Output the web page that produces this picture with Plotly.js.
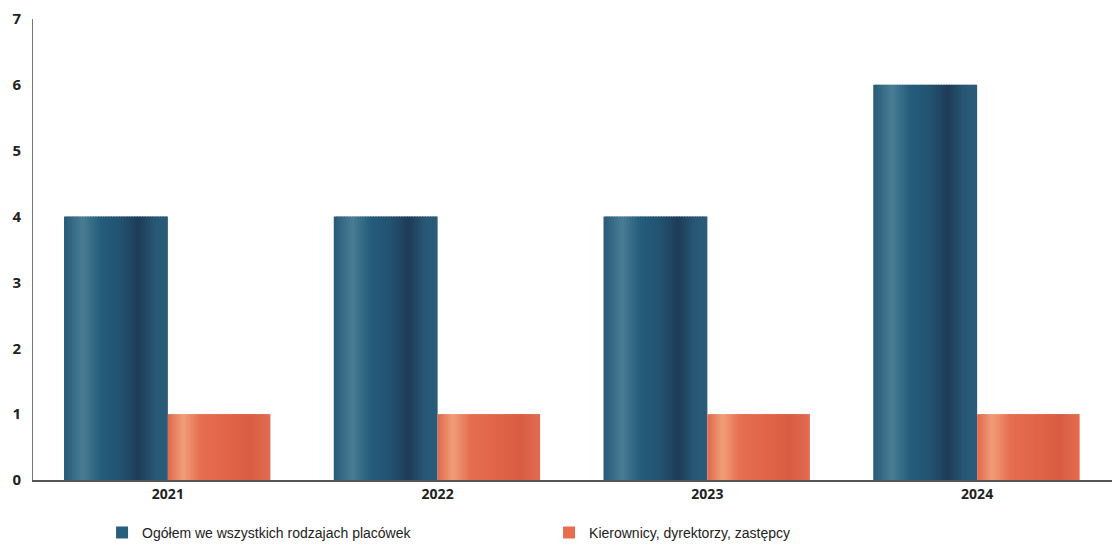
<!DOCTYPE html>
<html>
<head>
<meta charset="utf-8">
<script src="https://cdn.plot.ly/plotly-3.0.1.min.js"></script>
<style>html,body{margin:0;padding:0;background:#fff;}#chart{width:1112px;height:550px;}</style>
</head>
<body>
<div id="chart"></div>
<script>
// Data
const years = ['2021', '2022', '2023', '2024'];
const seriesNames = ['Ogółem we wszystkich rodzajach placówek', 'Kierownicy, dyrektorzy, zastępcy'];
const totalAll = [4, 4, 4, 6];
const managers = [1, 1, 1, 1];

// Style: cylindrical shading approximated with vertical strips
const blueStops = [[0, [38, 90, 120]], [0.18, [74, 125, 148]], [0.35, [37, 93, 124]], [0.55, [34, 82, 112]], [0.72, [30, 60, 88]], [0.88, [40, 88, 118]], [1, [42, 92, 120]]];
const orangeStops = [[0, [222, 104, 78]], [0.15, [240, 158, 120]], [0.32, [229, 110, 80]], [0.6, [225, 100, 72]], [0.8, [216, 92, 66]], [1, [226, 108, 82]]];
function colorAt(stops, t) {
  for (let i = 0; i < stops.length - 1; i++) {
    const a = stops[i], b = stops[i + 1];
    if (t >= a[0] && t <= b[0]) {
      const f = (t - a[0]) / (b[0] - a[0]);
      const c = a[1].map((v, k) => Math.round(v + (b[1][k] - v) * f));
      return 'rgb(' + c.join(',') + ')';
    }
  }
  const c = stops[stops.length - 1][1];
  return 'rgb(' + c.join(',') + ')';
}

const N = 40;
const traces = [];
function addSeries(name, values, stops, start, w, legendColor) {
  const sw = w / N;
  for (let i = 0; i < N; i++) {
    const t = (i + 0.5) / N;
    traces.push({
      type: 'bar', x: years, y: values, name: name,
      offset: start + i * sw, width: (i < N - 1 ? sw * 1.5 : sw),
      marker: {color: colorAt(stops, t), line: {width: 0}},
      showlegend: false, hoverinfo: 'skip', legendgroup: name
    });
  }
  // legend entry
  traces.push({
    type: 'bar', x: years, y: values.map(() => null), name: name,
    marker: {color: legendColor}, showlegend: true, legendgroup: name, hoverinfo: 'skip'
  });
}
addSeries(seriesNames[0], totalAll, blueStops, -0.385, 0.385, 'rgb(40,95,128)');
addSeries(seriesNames[1], managers, orangeStops, 0.0, 0.38, 'rgb(232,108,78)');

const layout = {
  width: 1112, height: 550,
  margin: {l: 33, r: 0, t: 19, b: 70},
  barmode: 'overlay',
  paper_bgcolor: '#fff', plot_bgcolor: '#fff',
  showlegend: true,
  legend: {
    orientation: 'h', x: 0.064, xanchor: 'left', y: -0.08, yanchor: 'top',
    font: {family: '"Liberation Sans Narrow", "Liberation Sans", Arial, sans-serif', size: 14, color: '#222'},
    entrywidth: 402, itemwidth: 20, traceorder: 'normal'
  },
  xaxis: {
    type: 'category', showgrid: false, zeroline: false,
    showline: true, linecolor: '#555', linewidth: 2,
    ticks: '', tickfont: {family: '"Open Sans", sans-serif', size: 14, color: '#222', weight: 'bold'},
    fixedrange: true
  },
  yaxis: {
    range: [0, 7], dtick: 1, showgrid: false, zeroline: false,
    showline: true, linecolor: '#777', linewidth: 1,
    ticks: '', ticklabelstandoff: 8,
    tickfont: {family: '"Open Sans", sans-serif', size: 15, color: '#222', weight: 'bold'},
    fixedrange: true
  }
};

Plotly.newPlot('chart', traces, layout, {displayModeBar: false, staticPlot: true});
</script>
</body>
</html>
